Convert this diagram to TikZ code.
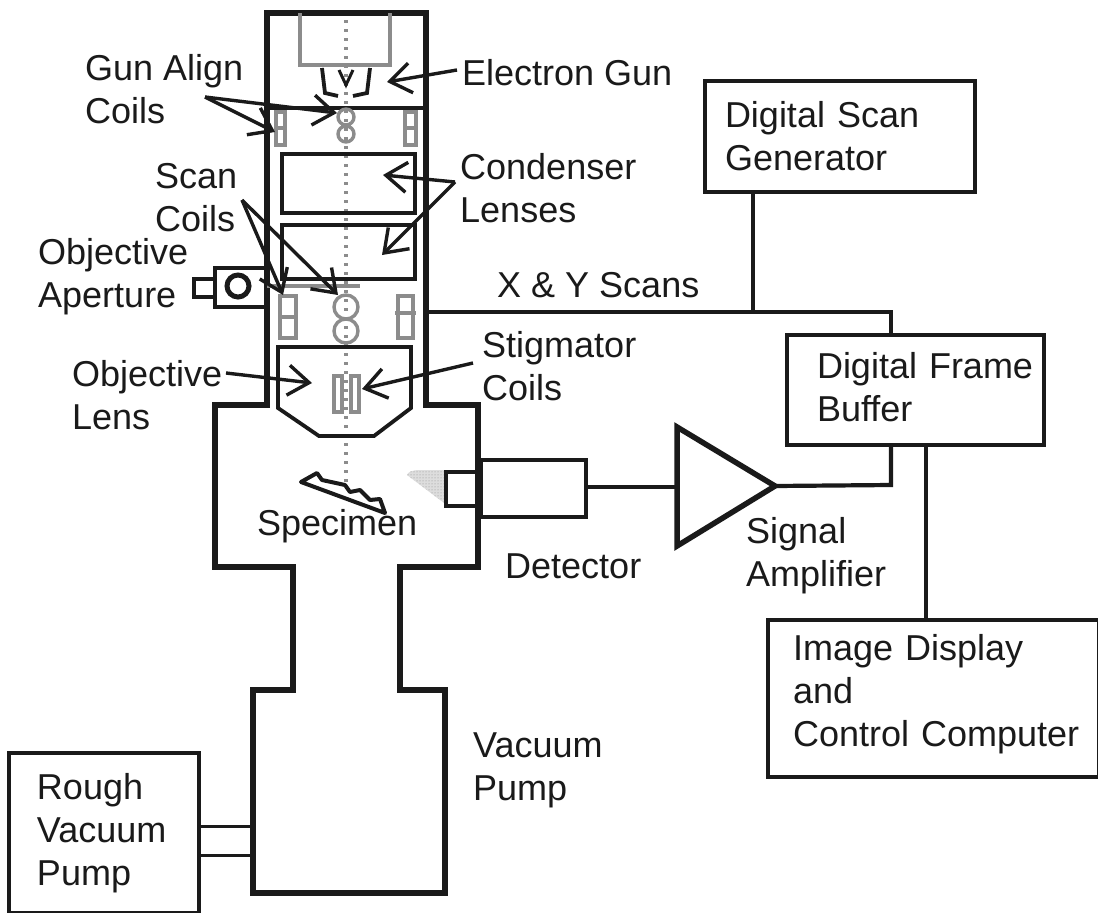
\documentclass[tikz,border=0pt]{standalone}
\usepackage{fontspec}
\setmainfont{Liberation Sans}
\usetikzlibrary{arrows.meta,patterns}
\definecolor{ink}{HTML}{1A1A1A}
\definecolor{coil}{HTML}{8C8C8C}
\newcommand{\boxline}[2]{\hspace*{#1}#2}
\tikzset{
  wall/.style={draw=ink,line width=5.5pt,line join=miter},
  thin wall/.style={draw=ink,line width=3.8pt},
  coilpart/.style={draw=coil,line width=3.4pt},
  wire/.style={draw=ink,line width=4.2pt},
  pointer/.style={draw=ink,line width=3.4pt,-{Straight Barb[length=21pt,width=30pt,line width=3.4pt]}},
  beam/.style={draw=coil,line width=3.2pt,dash pattern=on 3pt off 6pt},
  lab/.style={anchor=west,inner sep=0pt,align=left,text=ink,font=\fontsize{36}{43}\selectfont},
  textbox/.style n args={2}{draw=ink,line width=3.8pt,anchor=center,minimum width=#1,minimum height=#2,text width=#1,inner xsep=0pt,inner ysep=0pt,align=left,text=ink,font=\fontsize{36}{43}\selectfont},
}
\begin{document}
\begin{tikzpicture}[x=1pt,y=-1pt]
\useasboundingbox (0,0) rectangle (1098,913);
\fill[white] (0,0) rectangle (1098,913);

% electron beam
\draw[beam] (346,20) -- (346,485);

% column and chamber outline
\draw[wall] (267,13) -- (426,13) -- (426,405) -- (478,405) -- (478,567) -- (400,567) -- (400,690) -- (445,690) -- (445,893) -- (253,893) -- (253,690) -- (293,690) -- (293,567) -- (215,567) -- (215,405) -- (267,405) -- cycle;
\draw[thin wall] (267,108) -- (426,108);

% gun
\draw[coilpart] (300,13) -- (300,65) -- (390,65) -- (390,13);
\draw[thin wall] (322,68) -- (325,93) -- (338,96);
\draw[thin wall] (370,68) -- (367,93) -- (353,96);
\draw[draw=ink,line width=3pt] (339,70) -- (346,85) -- (353,70);
\draw[coilpart] (346,117) circle[radius=8pt] (346,134) circle[radius=8pt];
\draw[coilpart] (276,112) rectangle (285,145) (276,128) -- (285,128);
\draw[coilpart] (405,112) rectangle (416,145) (405,128) -- (416,128);

% condenser lenses
\node[draw=ink,line width=3.8pt,minimum width=133pt,minimum height=59pt,anchor=north west,inner sep=0pt] (lensA) at (280,152) {};
\node[draw=ink,line width=3.8pt,minimum width=133pt,minimum height=54pt,anchor=north west,inner sep=0pt] (lensB) at (280,223) {};

% objective aperture
\draw[wall,line width=4.5pt] (267,268) -- (215,268) -- (215,307) -- (267,307);
\draw[wall,line width=4.5pt] (215,279) -- (194,279) -- (194,297) -- (215,297);
\draw[wall,line width=5pt] (238,286) circle[radius=11pt];
\draw[coilpart] (267,286) -- (360,286);

% scan coils
\draw[coilpart] (280,296) rectangle (296,338) (280,317) -- (296,317);
\draw[coilpart] (398,296) rectangle (413,338) (395,313) -- (416,313);
\draw[coilpart] (346,307) circle[radius=12pt] (346,331) circle[radius=12pt];

% objective lens and stigmator
\draw[thin wall] (278,347) -- (411,347) -- (411,408) -- (374,436) -- (319,436) -- (278,408) -- cycle;
\draw[coilpart] (334,376) rectangle (342,412);
\draw[coilpart] (351,376) rectangle (359,412);

% specimen
\draw[draw=ink,line width=4pt,line join=round] (301,482) -- (317,473) -- (322,480) -- (345,485) -- (350,492) -- (360,490) -- (370,500) -- (380,499) -- (385,513) -- cycle;

% detector
\fill[coil!30] (444,470) -- (420,470) .. controls (412,470) and (408,472) .. (407,475) -- (444,503) -- cycle;
\fill[pattern=dots,pattern color=coil] (444,470) -- (420,470) .. controls (412,470) and (408,472) .. (407,475) -- (444,503) -- cycle;
\node[draw=ink,line width=3.8pt,minimum width=34pt,minimum height=34pt,anchor=north west,inner sep=0pt] (sensor) at (444,470) {};
\node[draw=ink,line width=3.8pt,minimum width=105pt,minimum height=57pt,anchor=north west,inner sep=0pt] (detbody) at (479,458) {};

% amplifier
\coordinate (ampapex) at (775,486);
\coordinate (ampin) at (677,487);
\draw[wall] (677,427) -- (ampapex) -- (677,546) -- cycle;

% electronics boxes
\node[textbox={270pt}{111pt}] (scangen) at (840,136.5) {\boxline{20pt}{Digital Scan}\\\boxline{20pt}{Generator}};
\node[textbox={257pt}{110pt}] (framebuf) at (915.5,390) {\boxline{30pt}{Digital Frame}\\\boxline{30pt}{Buffer}\par\vspace*{6pt}};
\node[textbox={331pt}{157pt}] (display) at (933.5,698.5) {\boxline{25pt}{Image Display}\\\boxline{25pt}{and}\\\boxline{25pt}{Control Computer}\par\vspace*{9pt}};
\node[textbox={190pt}{160pt}] (rough) at (104,833) {\boxline{28pt}{Rough}\\\boxline{28pt}{Vacuum}\\\boxline{28pt}{Pump}};

% wiring
\coordinate (scanbus) at (426,312);
\coordinate (buscorner) at (891,312);
\coordinate (sigcorner) at (891,485);
\coordinate (scanjoin) at (753,312);
\coordinate (dispjoin) at (926,445);
\coordinate (pumpU) at (253,826);
\coordinate (pumpL) at (253,855);
\draw[wire] (scanbus) -- (buscorner) -- (buscorner |- framebuf.north);
\draw[wire] (scangen.south -| scanjoin) -- (scanjoin);
\draw[wire] (detbody.east |- ampin) -- (ampin);
\draw[wire] (ampapex) -- (sigcorner) -- (sigcorner |- framebuf.south);
\draw[wire] (dispjoin) -- (dispjoin |- display.north);
\draw[wire,line width=3pt] (rough.east |- pumpU) -- (pumpU);
\draw[wire,line width=3pt] (rough.east |- pumpL) -- (pumpL);

% labels
\node[lab] (lgun) at (85,89) {Gun Align\\Coils};
\node[lab] (legun) at (462,73) {Electron Gun};
\node[lab] (lscan) at (155,198) {Scan\\Coils};
\node[lab] (lcond) at (460,188) {Condenser\\Lenses};
\node[lab] (lap) at (38,277) {Objective\\Aperture};
\node[lab] (lxy) at (497,285) {X \& Y Scans};
\node[lab] (lobj) at (72,395) {Objective\\Lens};
\node[lab] (lstig) at (482,366) {Stigmator\\Coils};
\node[lab] (lspec) at (257,526) {Specimen};
\node[lab] (ldet) at (505,566) {Detector};
\node[lab] (lamp) at (746,556) {Signal\\Amplifier};
\node[lab] (lvac) at (473,770) {Vacuum\\Pump};

% pointers
\coordinate (gunfrom) at (205,97);
\coordinate (condfrom) at (455,182);
\coordinate (scanfrom) at (242,200);
\coordinate (tGunA) at (337,113);
\coordinate (tGunB) at (275,132);
\coordinate (tEgun) at (387,82);
\coordinate (tCondA) at (383,175);
\coordinate (tCondB) at (382,255);
\coordinate (tScanA) at (283,295);
\coordinate (tScanB) at (338,295);
\coordinate (fEgun) at (457,70);
\coordinate (fObj) at (226,373);
\coordinate (tObj) at (312,383);
\coordinate (fStig) at (473,363);
\coordinate (tStig) at (362,389);
\draw[pointer] (gunfrom) -- (tGunA);
\draw[pointer] (gunfrom) -- (tGunB);
\draw[pointer] (fEgun) -- (tEgun);
\draw[pointer] (condfrom) -- (tCondA);
\draw[pointer] (condfrom) -- (tCondB);
\draw[pointer] (scanfrom) -- (tScanA);
\draw[pointer] (scanfrom) -- (tScanB);
\draw[pointer] (fObj) -- (tObj);
\draw[pointer] (fStig) -- (tStig);
\end{tikzpicture}
\end{document}
